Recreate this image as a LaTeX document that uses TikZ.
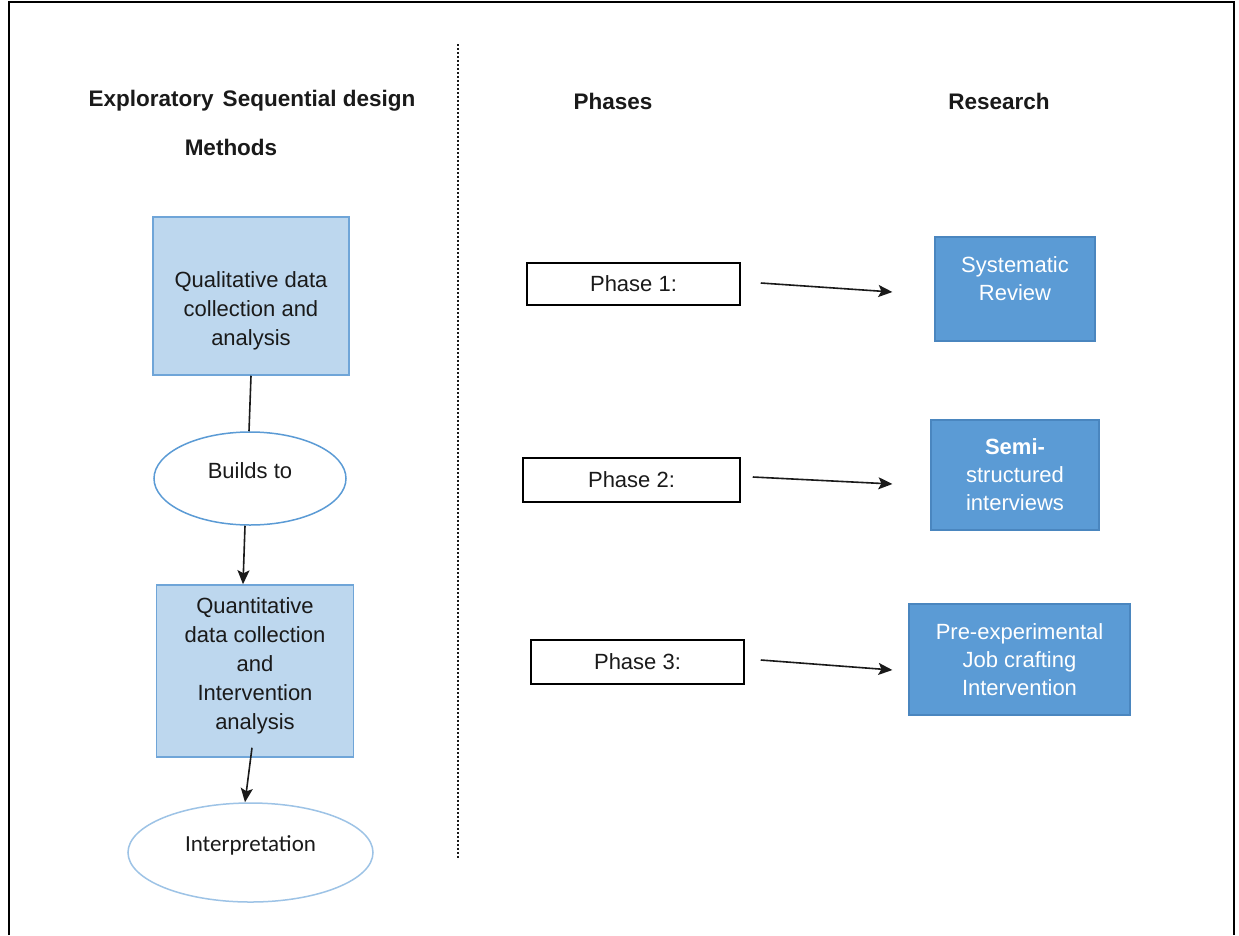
\documentclass[tikz,border=0pt]{standalone}
\usepackage{fontspec}
\setmainfont{Liberation Sans}
\newfontfamily\calibrifont{Carlito}
\usetikzlibrary{shapes.geometric,arrows.meta}

\definecolor{lightbox}{HTML}{BDD7EE}
\definecolor{lightedge}{HTML}{6FA5D8}
\definecolor{darkbox}{HTML}{5B9BD5}
\definecolor{darkedge}{HTML}{4A86BF}
\definecolor{ovaledge}{HTML}{5B9BD5}
\definecolor{paleedge}{HTML}{9DC3E6}
\definecolor{ink}{HTML}{1A1A1A}

\tikzset{
  body/.style={font=\fontsize{22}{29}\selectfont, text=ink, align=center, inner sep=0pt},
  heading/.style={font=\fontsize{22.5}{29}\selectfont\bfseries, text=ink, inner sep=0pt},
  methodbox/.style={draw=lightedge, fill=lightbox, line width=1.5pt, inner sep=0pt},
  researchbox/.style={draw=darkedge, fill=darkbox, line width=1.2pt, inner sep=0pt,
    text=white, align=center, font=\fontsize{22}{28}\selectfont},
  phasebox/.style={draw=black, line width=1.5pt, inner sep=0pt,
    font=\fontsize{22}{28}\selectfont, text=ink},
  oval/.style={ellipse, draw=ovaledge, line width=1.5pt, inner sep=0pt},
  link/.style={draw=ink, line width=1.6pt},
  flow/.style={link, -{Stealth[length=14pt,width=12pt,inset=3pt]}}
}

\begin{document}
\begin{tikzpicture}[x=1pt, y=-1pt]
  \useasboundingbox (0,0) rectangle (1239,935);
  \fill[white] (0,0) rectangle (1239,935);

  % open frame and column divider
  \draw[line width=2pt] (9,935) -- (9,2) -- (1234,2) -- (1234,935);
  \draw[line width=1.3pt, dash pattern=on 2pt off 2pt, draw=ink] (458,44) -- (458,858);

  % column headings
  \node[heading] (ttl) at (252,101) {Exploratory\hspace{9pt}Sequential design};
  \node[heading] (mth) at (231,147) {Methods};
  \node[heading] (phs) at (613,101) {Phases};
  \node[heading] (res) at (999,101) {Research};

  % method chain
  \node[methodbox, minimum width=196pt, minimum height=158pt] (qual) at (251,296) {};
  \node[body] (qualtxt) at (251,311) {Qualitative data\\collection and\\analysis};

  \node[oval, fill=white, minimum width=192pt, minimum height=93pt] (build) at (250,478.5) {};
  \node[body] (buildtxt) at (250,471) {Builds to};

  \node[methodbox, minimum width=197pt, minimum height=172pt] (quant) at (255,671) {};
  \node[body] (quanttxt) at (255,665.5) {Quantitative\\data collection\\and\\Intervention\\analysis};

  \node[oval, draw=paleedge, fill=white, minimum width=245pt, minimum height=99pt] (interp) at (250.5,852.5) {};
  \node[body, font=\calibrifont\fontsize{23}{29}\selectfont] (interptxt) at (250.5,845) {Interpretation};

  \draw[link] (qual.south) -- ([xshift=-1pt]build.north);
  \draw[flow] ([xshift=-5pt]build.south) -- ([xshift=-12pt]quant.north);
  \draw[flow] ([xshift=-3pt,yshift=10pt]quant.south) -- ([xshift=-5.5pt]interp.north);

  % phases
  \node[phasebox, minimum width=213pt, minimum height=42pt] (p1) at (633.5,284) {Phase 1:};
  \node[phasebox, minimum width=217pt, minimum height=44pt] (p2) at (631.5,480) {Phase 2:};
  \node[phasebox, minimum width=213pt, minimum height=44pt] (p3) at (637.5,662) {Phase 3:};

  % research strands
  \node[researchbox, minimum width=160pt, minimum height=104pt] (sr) at (1015,289) {};
  \node[researchbox, draw=none, fill=none] (srtxt) at (1015,279) {Systematic\\Review};
  \node[researchbox, minimum width=168pt, minimum height=110pt] (semi) at (1015,475)
    {\textbf{Semi-}\\structured\\interviews};
  \node[researchbox, minimum width=221pt, minimum height=111pt] (pre) at (1019.5,659.5)
    {Pre-experimental\\Job crafting\\Intervention};

  \draw[flow] ([xshift=20pt,yshift=1pt]p1.east) -- ([xshift=-42pt,yshift=-3pt]sr.west);
  \draw[flow] ([xshift=12pt,yshift=3pt]p2.east) -- ([xshift=-38pt,yshift=-9pt]semi.west);
  \draw[flow] ([xshift=16pt,yshift=2pt]p3.east) -- ([xshift=-16pt,yshift=-10.5pt]pre.west);
\end{tikzpicture}
\end{document}
